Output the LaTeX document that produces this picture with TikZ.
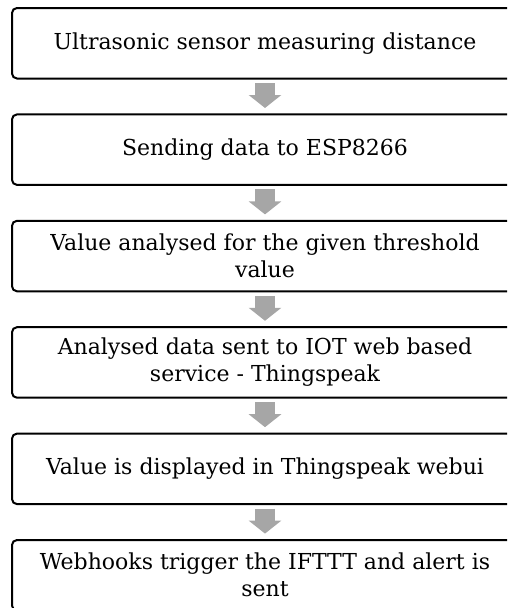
\documentclass[tikz,border=0pt]{standalone}
\usepackage{fontspec}
\setmainfont{DejaVu Serif}
\usetikzlibrary{arrows.meta}
\definecolor{arrowgray}{HTML}{A6A6A6}
\tikzset{
  stepbox/.style={draw=black, line width=2pt, rounded corners=5pt, fill=white,
    minimum width=506pt, minimum height=70.5pt, inner sep=0pt,
    align=center, font=\fontsize{22}{27}\selectfont},
  flowarrow/.style={draw=arrowgray, line width=20pt,
    -{Triangle[width=32pt,length=13pt]}, shorten <=3.5pt, shorten >=5.4pt}
}
\begin{document}
\begin{tikzpicture}[x=1pt,y=1pt]
\useasboundingbox (0,0) rectangle (507,-608);
\clip (0,0) rectangle (507,-608);
\node[stepbox] (s1) at (265,-43.25) {Ultrasonic sensor measuring distance};
\node[stepbox] (s2) at (265,-149.65) {Sending data to ESP8266};
\node[stepbox] (s3) at (265,-256.05) {Value analysed for the given threshold\\value};
\node[stepbox] (s4) at (265,-362.45) {Analysed data sent to IOT web based\\service - Thingspeak};
\node[stepbox] (s5) at (265,-468.85) {Value is displayed in Thingspeak webui};
\node[stepbox] (s6) at (265,-575.25) {Webhooks trigger the IFTTT and alert is\\sent};
\draw[flowarrow] (s1) -- (s2);
\draw[flowarrow] (s2) -- (s3);
\draw[flowarrow] (s3) -- (s4);
\draw[flowarrow] (s4) -- (s5);
\draw[flowarrow] (s5) -- (s6);
\end{tikzpicture}
\end{document}
